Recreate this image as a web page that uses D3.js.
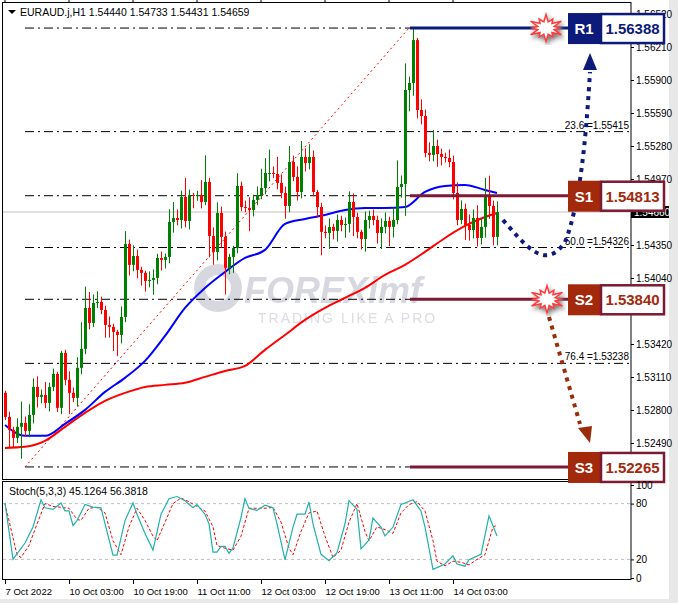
<!DOCTYPE html>
<html>
<head>
<meta charset="utf-8">
<script src="https://cdn.jsdelivr.net/npm/d3@7"></script>
<style>
  body { margin: 0; background: #fff; }
  svg { display: block; font-family: "Liberation Sans", Arial, sans-serif; }
</style>
</head>
<body>
<svg id="chart" width="678" height="603"></svg>
<script>
// close prices, H1 candles (open = previous close)
const firstOpen = 1.52961
const closes = [
  1.52735, 1.52613, 1.52538, 1.52642, 1.52679, 1.52604, 1.52754, 1.53017, 1.52923, 1.52942,
  1.52867, 1.53017, 1.53139, 1.52820, 1.53336, 1.53083, 1.52961, 1.52914, 1.53196, 1.53374,
  1.53759, 1.53618, 1.53806, 1.53815, 1.53740, 1.53599, 1.53581, 1.53534, 1.53505, 1.53674,
  1.54360, 1.54163, 1.54247, 1.54116, 1.54088, 1.54012, 1.54022, 1.54041, 1.54228, 1.54210,
  1.54238, 1.54566, 1.54604, 1.54585, 1.54801, 1.54576, 1.54820, 1.54815, 1.54820, 1.54754,
  1.54942, 1.54435, 1.54285, 1.54651, 1.54426, 1.54135, 1.54238, 1.54322, 1.54905, 1.54707,
  1.54698, 1.54679, 1.54773, 1.54820, 1.54886, 1.55027, 1.55027, 1.55017, 1.54933, 1.54839,
  1.54717, 1.55130, 1.54989, 1.54848, 1.55177, 1.55120, 1.55177, 1.54848, 1.54707, 1.54473,
  1.54463, 1.54520, 1.54482, 1.54585, 1.54538, 1.54548, 1.54754, 1.54613, 1.54473, 1.54407,
  1.54585, 1.54623, 1.54585, 1.54463, 1.54520, 1.54576, 1.54520, 1.54585, 1.54895, 1.54923,
  1.55806, 1.55872, 1.56275, 1.55618, 1.55562, 1.55214, 1.55196, 1.55280, 1.55205, 1.55177,
  1.55167, 1.55130, 1.54839, 1.54585, 1.54689, 1.54538, 1.54491, 1.54604, 1.54416, 1.54520,
  1.54801, 1.54717, 1.54426, 1.54660
]
// wick lengths above / below the body, in pips
const wickHi = [
  2, 5, 3, 8, 20, 6, 10, 8, 10, 5, 12, 4, 5, 2, 2, 3, 8, 5, 10, 25,
  20, 15, 8, 10, 5, 4, 8, 3, 2, 10, 12, 4, 10, 6, 3, 2, 8, 8, 4, 6,
  3, 12, 15, 8, 6, 18, 5, 2, 4, 14, 25, 4, 8, 10, 6, 5, 3, 2, 12, 4,
  6, 10, 5, 8, 18, 14, 22, 6, 16, 8, 6, 15, 6, 10, 15, 8, 12, 6, 2, 4,
  6, 8, 3, 5, 4, 6, 10, 8, 4, 2, 8, 5, 6, 4, 8, 8, 4, 12, 25, 8,
  25, 6, 12, 2, 10, 6, 10, 15, 6, 5, 4, 8, 6, 10, 8, 5, 10, 8, 12, 8,
  18, 20, 5, 10
]
const wickLo = [
  3, 16, 9, 5, 30, 5, 6, 8, 10, 6, 5, 8, 4, 4, 6, 5, 20, 4, 8, 6,
  5, 6, 4, 5, 4, 12, 10, 18, 20, 8, 5, 10, 6, 8, 12, 10, 6, 14, 6, 10,
  8, 6, 10, 5, 8, 6, 8, 12, 5, 6, 3, 20, 12, 8, 10, 25, 6, 15, 5, 4,
  4, 20, 6, 5, 4, 6, 8, 4, 6, 5, 12, 6, 4, 8, 6, 8, 6, 4, 10, 22,
  5, 15, 8, 10, 6, 12, 8, 18, 6, 10, 12, 8, 5, 10, 15, 6, 18, 10, 4, 10,
  30, 20, 12, 8, 8, 4, 6, 6, 12, 8, 4, 5, 6, 5, 4, 14, 10, 8, 8, 6,
  10, 12, 8, 8
]
// moving averages sampled at candle index
const maIdx = [0, 5, 10, 15, 20, 25, 30, 35, 40, 45, 50, 55, 60, 65, 70, 75, 80, 85, 90, 95, 100, 105, 110, 115, 120, 123]
const maBlue = [1.52660, 1.52557, 1.52557, 1.52670, 1.52801, 1.52970, 1.53102, 1.53261, 1.53496, 1.53759,
  1.53947, 1.54097, 1.54228, 1.54304, 1.54548, 1.54595, 1.54632, 1.54679, 1.54698, 1.54698,
  1.54707, 1.54848, 1.54905, 1.54914, 1.54867, 1.54839]
const maRed = [1.52444, 1.52454, 1.52510, 1.52642, 1.52773, 1.52886, 1.52961, 1.53017, 1.53036, 1.53055,
  1.53111, 1.53167, 1.53214, 1.53365, 1.53505, 1.53646, 1.53759, 1.53853, 1.53947, 1.54069,
  1.54163, 1.54285, 1.54416, 1.54529, 1.54613, 1.54651]
// stochastic main line
const stochIdx = [0, 2, 5, 7, 9, 10, 12, 14, 15, 16, 17, 18, 20, 22, 24, 27, 28, 30, 32, 33,
  35, 37, 39, 41, 43, 45, 47, 48, 50, 51, 52, 53, 54, 55, 56, 57, 59, 60, 61, 63,
  65, 67, 68, 70, 72, 73, 75, 76, 77, 79, 81, 83, 85, 86, 88, 89, 91, 92, 94, 95,
  97, 99, 100, 102, 104, 105, 107, 110, 112, 113, 115, 116, 119, 121, 123]
const stochMain = [80.7, 20.3, 37.6, 54.8, 84.1, 75.5, 73.8, 80.7, 72.1, 72.1, 56.5, 61.7, 79, 76.2, 75.5, 24.5, 24.5, 61.7, 80.7, 68.6,
  47.9, 30, 68.6, 85.2, 87.6, 83.1, 75.5, 79, 68.6, 58.3, 27.9, 27.9, 34.1, 34.1, 26.5, 32.4, 65.2, 85.2, 74.8, 72.8,
  78.3, 75.5, 58.3, 19.6, 54.8, 68.6, 68.6, 81.7, 58.3, 25.5, 18.6, 27.2, 58.3, 83.1, 73.8, 31.4, 41, 64.5, 54.8, 45.2,
  54.8, 79, 80.7, 84.1, 72.1, 54.8, 9.3, 15.1, 23.8, 15.1, 12.7, 19.6, 25.5, 66.9, 45.1]
// stochastic signal line
const signalIdx = [0, 3, 4, 6, 8, 10, 12, 14, 16, 18, 19, 21, 23, 25, 27, 29, 31, 33, 35, 37, 38, 40, 42, 44, 46, 48, 50,
  52, 53, 55, 57, 59, 61, 63, 65, 67, 69, 71, 72, 74, 76, 78, 80, 82, 84, 86, 88, 90, 91, 93, 95, 97, 99, 101,
  103, 105, 107, 108, 110, 112, 114, 116, 118, 120, 122, 123]
const stochSignal = [80, 25, 22, 35, 58, 80, 77, 76, 75, 63, 62, 75, 76, 70, 40, 25, 55, 75, 62, 45, 40, 60, 80, 86, 82, 77, 72,
  55, 35, 32, 30, 45, 75, 75, 75, 76, 60, 32, 25, 50, 70, 72, 45, 22, 30, 60, 80, 50, 40, 55, 52, 48, 70, 79,
  82, 72, 40, 18, 13, 18, 17, 14, 20, 25, 55, 56.4]

const priceTicks = [1.56520, 1.56210, 1.55900, 1.55590, 1.55280, 1.54970, 1.54350, 1.54040, 1.53420, 1.53110, 1.52800, 1.52490]
const stochTicks = [100, 80, 20, 0]
const fibLevels = [0, 23.6, 38.2, 50.0, 61.8, 76.4, 100.0]
const fibLabelled = [23.6, 50.0, 76.4]
const fibHigh = 1.56388
const fibLow = 1.52265
const levels = [
  { name: 'R1', value: 1.56388, kind: 'r' },
  { name: 'S1', value: 1.54813, kind: 's' },
  { name: 'S2', value: 1.53840, kind: 's' },
  { name: 'S3', value: 1.52265, kind: 's' },
]
const timeTicks = [0, 16, 32, 48, 64, 80, 96, 112]
const timeLabels = ['7 Oct 2022', '10 Oct 03:00', '10 Oct 19:00', '11 Oct 11:00', '12 Oct 03:00', '12 Oct 19:00', '13 Oct 11:00', '14 Oct 03:00']

const svg = d3.select('#chart')
const PIP = 0.0001
const frameRight = 631

const x = d3.scaleLinear().domain([0, 123]).range([5, 497])
const y = d3.scaleLinear().domain([1.52490, 1.56520]).range([443, 14])
const ys = d3.scaleLinear().domain([0, 100]).range([578, 485])

// window edge
svg.append('rect').attr('x', 669).attr('y', 0).attr('width', 9).attr('height', 603).attr('fill', '#e8e8e8')
svg.append('rect').attr('x', 0).attr('y', 599).attr('width', 678).attr('height', 4).attr('fill', '#e8e8e8')

// frames
svg.append('rect').attr('x', 2.5).attr('y', 2.5).attr('width', frameRight - 2.5).attr('height', 477)
  .attr('fill', 'none').attr('stroke', '#000')
svg.append('rect').attr('x', 2.5).attr('y', 481.5).attr('width', frameRight - 2.5).attr('height', 98)
  .attr('fill', 'none').attr('stroke', '#000')

// watermark
const wm = svg.append('g').attr('opacity', 0.55)
wm.append('circle').attr('cx', 218).attr('cy', 288).attr('r', 24).attr('fill', '#b8b8c8')
wm.append('circle').attr('cx', 218).attr('cy', 288).attr('r', 13).attr('fill', '#fff')
wm.append('text').attr('x', 244).attr('y', 303).attr('font-size', 36).attr('font-weight', 'bold')
  .attr('font-style', 'italic').attr('fill', '#b8b8c8').text('FOREXimf')
wm.append('text').attr('x', 258).attr('y', 323).attr('font-size', 14).attr('letter-spacing', 2)
  .attr('fill', '#c0c0cc').text('TRADING LIKE A PRO')

// fibonacci
const fibPrice = l => fibHigh - (fibHigh - fibLow) * l / 100
svg.append('g').selectAll('line').data(fibLevels).join('line')
  .attr('x1', 25).attr('x2', frameRight)
  .attr('y1', d => y(fibPrice(d))).attr('y2', d => y(fibPrice(d)))
  .attr('stroke', '#000').attr('stroke-dasharray', '9,4,2,4')
svg.append('g').selectAll('text').data(fibLabelled).join('text')
  .attr('x', frameRight - 2).attr('y', d => y(fibPrice(d)) - 3)
  .attr('text-anchor', 'end').attr('font-size', 10).attr('fill', '#000')
  .text(d => `${d.toFixed(1)} =${fibPrice(d).toFixed(5)}`)
svg.append('line')
  .attr('x1', x(5)).attr('y1', y(fibLow)).attr('x2', x(101)).attr('y2', y(fibHigh))
  .attr('stroke', '#ff0000').attr('stroke-dasharray', '2,3')

// current price line
const last = closes[closes.length - 1]
svg.append('line').attr('x1', 3).attr('x2', frameRight).attr('y1', y(last)).attr('y2', y(last))
  .attr('stroke', '#c0c0c0')

// moving averages
const maLine = d3.line().x(d => x(d[0])).y(d => y(d[1])).curve(d3.curveMonotoneX)
svg.append('path').attr('d', maLine(maIdx.map((d, i) => [d, maRed[i]])))
  .attr('fill', 'none').attr('stroke', '#ff0000').attr('stroke-width', 2)
svg.append('path').attr('d', maLine(maIdx.map((d, i) => [d, maBlue[i]])))
  .attr('fill', 'none').attr('stroke', '#0000ff').attr('stroke-width', 2)

// candles
const candles = closes.map((c, i) => {
  const o = i === 0 ? firstOpen : closes[i - 1]
  return { i, o, c, h: Math.max(o, c) + wickHi[i] * PIP, l: Math.min(o, c) - wickLo[i] * PIP }
})
const cg = svg.append('g')
cg.selectAll('line').data(candles).join('line')
  .attr('x1', d => x(d.i) + 0.5).attr('x2', d => x(d.i) + 0.5)
  .attr('y1', d => y(d.h)).attr('y2', d => y(d.l))
  .attr('stroke', d => (d.c >= d.o ? '#008000' : '#ff0000'))
cg.selectAll('rect').data(candles).join('rect')
  .attr('x', d => x(d.i) - 1).attr('width', 3)
  .attr('y', d => y(Math.max(d.o, d.c)))
  .attr('height', d => Math.max(1, Math.abs(y(d.o) - y(d.c))))
  .attr('fill', d => (d.c >= d.o ? '#008000' : '#ff0000'))

// price axis
const axisG = svg.append('g').attr('transform', `translate(${frameRight},0)`)
  .call(d3.axisRight(y).tickValues(priceTicks).tickSize(3).tickPadding(2).tickFormat(d3.format('.5f')))
axisG.select('.domain').remove()
axisG.selectAll('text').attr('font-size', 10).attr('font-family', 'Liberation Sans, Arial, sans-serif')

// current price tag
svg.append('rect').attr('x', frameRight).attr('y', y(last) - 6).attr('width', 38).attr('height', 12).attr('fill', '#000')
svg.append('text').attr('x', frameRight + 3).attr('y', y(last) + 4).attr('font-size', 10).attr('fill', '#fff').text(last.toFixed(5))

// level lines
const lvlColor = d => (d.kind === 'r' ? '#0c1a7a' : '#7d1a33')
svg.append('g').selectAll('line').data(levels).join('line')
  .attr('x1', 410).attr('x2', 568).attr('y1', d => y(d.value)).attr('y2', d => y(d.value))
  .attr('stroke', lvlColor).attr('stroke-width', 3)

// dotted path arrows
svg.append('path').attr('d', 'M503,220 C525,245 545,272 565,242 C582,200 587,120 590,72')
  .attr('fill', 'none').attr('stroke', '#0c1a7a').attr('stroke-width', 4).attr('stroke-dasharray', '4,5')
svg.append('path').attr('d', 'M583,70 L597,70 L590,53 Z').attr('fill', '#0c1a7a')
svg.append('path').attr('d', 'M549,317 L580,424')
  .attr('fill', 'none').attr('stroke', '#9b2c0b').attr('stroke-width', 4).attr('stroke-dasharray', '4,5')
svg.append('path').attr('d', 'M578,428 L592,426 L590,443 Z').attr('fill', '#9b2c0b')

// starbursts
const defs = svg.append('defs')
defs.append('filter').attr('id', 'shadow').append('feDropShadow')
  .attr('dx', 2).attr('dy', 3).attr('stdDeviation', 2).attr('flood-color', '#777')
const burst = d3.range(24).map(k => {
  const r = k % 2 ? 8 : (k % 4 ? 17 : 13)
  const a = k * Math.PI / 12
  return [Math.cos(a) * r * 1.05, Math.sin(a) * r * 0.8]
})
;[[546, y(1.56388)], [547, y(1.53840)]].forEach(([cx, cy]) => {
  svg.append('polygon').attr('points', burst.map(p => [cx + p[0], cy + p[1]].join(',')).join(' '))
    .attr('fill', '#fff').attr('stroke', '#ff3a3a').attr('stroke-width', 1.5).attr('filter', 'url(#shadow)')
})

// level boxes
const boxes = svg.append('g').selectAll('g').data(levels).join('g')
  .attr('transform', d => `translate(568,${y(d.value) - 15})`)
boxes.append('rect').attr('width', 32).attr('height', 31)
  .attr('fill', d => (d.kind === 'r' ? '#0c1a7a' : '#a3290c'))
boxes.append('rect').attr('x', 33).attr('y', 1).attr('width', 63).attr('height', 29)
  .attr('fill', '#fff').attr('stroke', lvlColor).attr('stroke-width', 2.5)
boxes.append('text').attr('x', 16).attr('y', 21).attr('text-anchor', 'middle')
  .attr('font-weight', 'bold').attr('font-size', 15)
  .attr('fill', '#fff').text(d => d.name)
boxes.append('text').attr('x', 64.5).attr('y', 21).attr('text-anchor', 'middle')
  .attr('font-weight', 'bold').attr('font-size', 15)
  .attr('fill', d => (d.kind === 'r' ? '#0c1a7a' : '#a3290c')).text(d => d.value.toFixed(5))

// stochastic
svg.append('g').selectAll('line').data([80, 20]).join('line')
  .attr('x1', 3).attr('x2', frameRight).attr('y1', d => ys(d)).attr('y2', d => ys(d))
  .attr('stroke', '#c0c0c0').attr('stroke-dasharray', '3,3')
const stLine = d3.line().x(d => x(d[0])).y(d => ys(d[1]))
svg.append('path').attr('d', stLine(signalIdx.map((d, i) => [d, stochSignal[i]])))
  .attr('fill', 'none').attr('stroke', '#ff0000').attr('stroke-dasharray', '3,2')
svg.append('path').attr('d', stLine(stochIdx.map((d, i) => [d, stochMain[i]])))
  .attr('fill', 'none').attr('stroke', '#20b2aa').attr('stroke-width', 1.2)
const sAxis = svg.append('g').attr('transform', `translate(${frameRight},0)`)
  .call(d3.axisRight(ys).tickValues(stochTicks).tickSize(3).tickPadding(2))
sAxis.select('.domain').remove()
sAxis.selectAll('text').attr('font-size', 10).attr('font-family', 'Liberation Sans, Arial, sans-serif')

// time axis
const tAxis = svg.append('g').attr('transform', 'translate(0,580)')
  .call(d3.axisBottom(x).tickValues(timeTicks).tickSize(4).tickPadding(4).tickFormat((d, i) => timeLabels[i]))
tAxis.select('.domain').remove()
tAxis.selectAll('text').attr('font-size', 9.5).attr('font-family', 'Liberation Sans, Arial, sans-serif').attr('text-anchor', 'start')
svg.append('g').selectAll('line').data(timeTicks).join('line')
  .attr('x1', d => x(d)).attr('x2', d => x(d)).attr('y1', 0).attr('y2', 3).attr('stroke', '#000')

// header texts
svg.append('path').attr('d', 'M8,10 L16,10 L12,14 Z').attr('fill', '#000')
svg.append('text').attr('x', 20).attr('y', 16).attr('font-size', 10.5)
  .text('EURAUD.j,H1  1.54440 1.54733 1.54431 1.54659')
svg.append('text').attr('x', 9).attr('y', 495).attr('font-size', 10.5)
  .text('Stoch(5,3,3) 45.1264 56.3818')
</script>
</body>
</html>
